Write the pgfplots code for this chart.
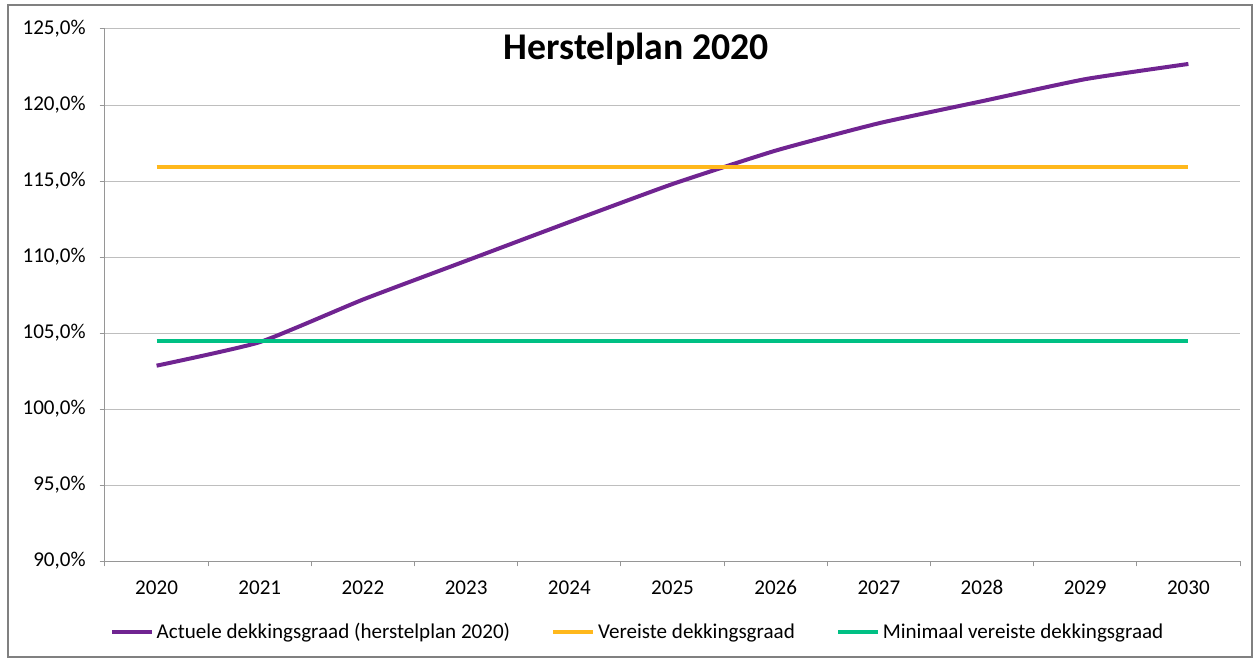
\documentclass[border=0pt]{standalone}
\usepackage{pgfplots}
\pgfplotsset{compat=1.18}
\usepackage{fontspec}
\setmainfont{Carlito}
\definecolor{cPurple}{RGB}{112,36,145}
\definecolor{cOrange}{RGB}{255,184,28}
\definecolor{cGreen}{RGB}{0,192,132}
\definecolor{cGrid}{RGB}{190,190,190}
\definecolor{cAxis}{RGB}{150,150,150}
\begin{document}
\begin{tikzpicture}
\path (0pt,0pt) rectangle (943.5pt,496.5pt);
\draw[draw=cAxis!85!black, line width=1.3pt] (6pt,3.75pt) rectangle (939pt,492.75pt);
\begin{axis}[
  at={(78.75pt,75.75pt)}, anchor=south west,
  scale only axis, width=851.25pt, height=399pt,
  xmin=-0.5, xmax=10.5, ymin=90, ymax=125,
  axis x line*=bottom, axis y line*=left,
  axis line style={draw=cAxis, line width=0.75pt},
  every outer x axis line/.append style={-}, every outer y axis line/.append style={-},
  tick align=outside, major tick length=4pt,
  tick style={draw=cAxis, line width=0.75pt},
  xtick={-0.5,0.5,...,10.5}, xticklabels={},
  extra x ticks={0,1,2,3,4,5,6,7,8,9,10},
  extra x tick labels={2020,2021,2022,2023,2024,2025,2026,2027,2028,2029,2030},
  extra x tick style={major tick length=0pt, grid=none},
  xticklabel style={yshift=-11pt},
  ytick={90,95,100,105,110,115,120,125},
  yticklabels={{90,0\%},{95,0\%},{100,0\%},{105,0\%},{110,0\%},{115,0\%},{120,0\%},{125,0\%}},
  yticklabel style={xshift=-7pt},
  ymajorgrids, grid style={draw=cGrid, line width=0.75pt},
  tick label style={font=\fontsize{15.8}{18}\selectfont},
  legend style={at={(0.4696,-0.133)}, anchor=center, draw=none, fill=none,
    font=\fontsize{15.8}{18}\selectfont, legend columns=3,
    /tikz/every even column/.append style={column sep=29pt},
    inner sep=0pt},
  legend image code/.code={\draw[#1] (0pt,0pt) -- (30pt,0pt);},
  legend cell align=left,
  clip=false,
]
\addplot[color=cPurple, line width=3pt, smooth, tension=0.3] coordinates {
(0,102.85) (1,104.4) (2,107.2) (3,109.75) (4,112.3) (5,114.8) (6,117.0) (7,118.8) (8,120.25) (9,121.7) (10,122.7)};
\addlegendentry{Actuele dekkingsgraad (herstelplan 2020)}
\addplot[color=cOrange, line width=3pt] coordinates {
(0,115.9) (1,115.9) (2,115.9) (3,115.9) (4,115.9) (5,115.9) (6,115.9) (7,115.9) (8,115.9) (9,115.9) (10,115.9)};
\addlegendentry{Vereiste dekkingsgraad\hspace{14pt}}
\addplot[color=cGreen, line width=3pt] coordinates {
(0,104.5) (1,104.5) (2,104.5) (3,104.5) (4,104.5) (5,104.5) (6,104.5) (7,104.5) (8,104.5) (9,104.5) (10,104.5)};
\addlegendentry{Minimaal vereiste dekkingsgraad}
\node[font=\bfseries\fontsize{28.3}{32}\selectfont, anchor=center] at (rel axis cs:0.468,0.9625) {Herstelplan 2020};
\end{axis}
\end{tikzpicture}
\end{document}
